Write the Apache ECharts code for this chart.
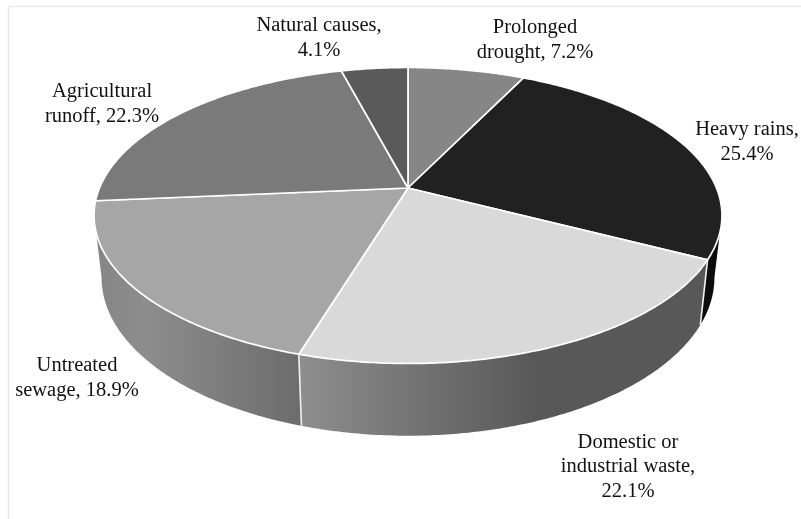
<!DOCTYPE html>
<html>
<head>
<meta charset="utf-8">
<style>html,body{margin:0;padding:0;background:#fff}#chart{width:801px;height:519px}</style>
<script src="https://cdn.jsdelivr.net/npm/echarts@6/dist/echarts.min.js"></script>
</head>
<body>
<div id="chart"></div>
<script>
// Data, clockwise from 12 o'clock
const categories = ['Prolonged drought', 'Heavy rains', 'Domestic or industrial waste', 'Untreated sewage', 'Agricultural runoff', 'Natural causes'];
const values = [7.2, 25.4, 22.1, 18.9, 22.3, 4.1];
const labels = ['Prolonged\ndrought, 7.2%', 'Heavy rains,\n25.4%', 'Domestic or\nindustrial waste,\n22.1%', 'Untreated\nsewage, 18.9%', 'Agricultural\nrunoff, 22.3%', 'Natural causes,\n4.1%'];
const topColors = ['#868686', '#212121', '#d9d9d9', '#a6a6a6', '#7a7a7a', '#5a5a5a'];

// Perspective projection of the pie disc
const view = { cx: 408, cy: 188, a: 308.5, b: 142.9, k: 0.1857, baseCy: 248.2, baseB: 152.7, baseScale: 0.976 };
const labelCenters = [[535, 40], [747, 142], [628, 467], [77, 378], [102, 104], [319, 38]];

const total = values.reduce((s, v) => s + v, 0);
const starts = [];
values.reduce((s, v, i) => { starts[i] = s; return s + v; }, 0);
const angleOf = v => v / total * Math.PI * 2;

function topPoint(t) {
  const X = Math.sin(t), Y = -Math.cos(t), d = 1 - view.k * Y;
  return [view.cx + view.a * X / d, view.cy + view.b * Y / d];
}
function basePoint(t) {
  const X = Math.sin(t), Y = -Math.cos(t), d = 1 - view.k * Y;
  return [view.cx + view.a * view.baseScale * X / d, view.baseCy + view.baseB * Y / d];
}
function arc(fn, a0, a1) {
  const n = Math.max(2, Math.ceil(Math.abs(a1 - a0) / 0.01));
  const pts = [];
  for (let i = 0; i <= n; i++) pts.push(fn(a0 + (a1 - a0) * i / n));
  return pts;
}
// The side is visible only where the rim faces the viewer
const visFrom = Math.acos(-view.k), visTo = Math.PI * 2 - visFrom;

function wallFill(i) {
  const G = echarts.graphic.LinearGradient;
  if (i === 2) return new G(0, 0, 1, 0, [{offset: 0, color: '#8e8e8e'}, {offset: 0.58, color: '#585858'}, {offset: 1, color: '#585858'}]);
  if (i === 3) return new G(0, 0, 1, 0, [{offset: 0, color: '#858585'}, {offset: 0.25, color: '#8d8d8d'}, {offset: 1, color: '#6c6c6c'}]);
  return '#0c0c0c';
}

function renderWall(params, api) {
  const i = params.dataIndex;
  const a0 = angleOf(starts[i]), a1 = a0 + angleOf(api.value(0));
  const s = Math.max(a0, visFrom), e = Math.min(a1, visTo);
  if (e <= s) return { type: 'group', children: [] };
  const pts = arc(topPoint, s, e).concat(arc(basePoint, s, e).reverse());
  const children = [{ type: 'polygon', shape: { points: pts }, style: { fill: wallFill(i), stroke: null } }];
  if (a0 >= visFrom && a0 <= visTo) {
    children.push({ type: 'line', z2: 5,
      shape: { x1: topPoint(a0)[0], y1: topPoint(a0)[1], x2: basePoint(a0)[0], y2: basePoint(a0)[1] },
      style: { stroke: '#f2f2f2', lineWidth: 1.6 } });
  }
  return { type: 'group', children };
}
function renderTop(params, api) {
  const i = params.dataIndex;
  const a0 = angleOf(starts[i]), a1 = a0 + angleOf(api.value(0));
  const pts = [[view.cx, view.cy]].concat(arc(topPoint, a0, a1));
  return { type: 'polygon', shape: { points: pts },
    style: { fill: topColors[i], stroke: '#ffffff', lineWidth: 1.7, lineJoin: 'round' } };
}

const chart = echarts.init(document.getElementById('chart'), null, { renderer: 'canvas', width: 801, height: 519 });
const seriesData = values.map((v, i) => ({ name: categories[i], value: [v] }));
chart.setOption({
  animation: false,
  backgroundColor: '#ffffff',
  series: [
    { type: 'custom', name: 'side', coordinateSystem: 'none', silent: true, z: 1, renderItem: renderWall, data: seriesData },
    { type: 'custom', name: 'top', coordinateSystem: 'none', silent: true, z: 2, renderItem: renderTop, data: seriesData }
  ],
  graphic: [
    { type: 'line', silent: true, shape: { x1: 8.5, y1: 6.5, x2: 801, y2: 6.5 }, style: { stroke: '#e9e9e9', lineWidth: 1.5 } },
    { type: 'line', silent: true, shape: { x1: 8.5, y1: 6.5, x2: 8.5, y2: 519 }, style: { stroke: '#e9e9e9', lineWidth: 1.5 } }
  ].concat(labels.map((t, i) => ({
    type: 'text', silent: true, z: 10, x: labelCenters[i][0], y: labelCenters[i][1],
    style: { text: t, fill: '#111111', font: '20.5px "Liberation Serif"', lineHeight: 24.3, align: 'center', verticalAlign: 'middle' }
  })))
});
</script>
</body>
</html>
